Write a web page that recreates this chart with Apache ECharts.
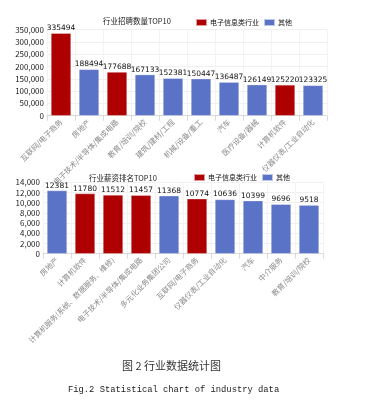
<!DOCTYPE html>
<html>
<head>
<meta charset="utf-8">
<script src="https://cdn.jsdelivr.net/npm/echarts@6/dist/echarts.min.js"></script>
<style>
html,body{margin:0;padding:0;background:#fff;}
#c{width:367px;height:401px;}
</style>
</head>
<body>
<div id="c"></div>
<script>
// ---- Data ----
const recruitCategories = ['互联网/电子商务','房地产','电子技术/半导体/集成电路','教育/培训/院校','建筑/建材/工程','机械/设备/重工','汽车','医疗设备/器械','计算机软件','仪器仪表/工业自动化'];
const recruitValues = [335494,188494,177688,167133,152381,150447,136487,126149,125220,123325];
const recruitIsElectronic = [1,0,1,0,0,0,0,0,1,0];

const salaryCategories = ['房地产','计算机软件','计算机服务(系统、数据服务、维修)','电子技术/半导体/集成电路','多元化业务集团公司','互联网/电子商务','仪器仪表/工业自动化','汽车','中介服务','教育/培训/院校'];
const salaryValues = [12381,11780,11512,11457,11368,10774,10636,10399,9696,9518];
const salaryIsElectronic = [0,1,1,1,0,1,0,0,0,0];

const titles = ['行业招聘数量TOP10','行业薪资排名TOP10'];
const legendNames = ['电子信息类行业','其他'];
const captionCN = '图 2 行业数据统计图';
const captionEN = 'Fig.2 Statistical chart of industry data';

// ---- Styles ----
const RED = '#AE0000';
const BLUE = '#5B73C7';
const FONT = '"Noto Sans CJK SC", "DejaVu Sans", sans-serif';

function split(vals, flags, want){
  return vals.map((v,i)=> flags[i]===want ? v : null);
}
function fmt(v){ return v.toLocaleString('en-US'); }

const chart = echarts.init(document.getElementById('c'));

function xAxisFor(cats, gi){
  return {
    type:'category', gridIndex:gi, data:cats,
    axisLine:{lineStyle:{color:'#d9d9d9'}},
    axisTick:{show:true, lineStyle:{color:'#d9d9d9'}},
    axisLabel:{rotate:45, interval:0, fontSize:7.5, color:'#8a8a8a', fontFamily:FONT, margin:5},
    splitLine:{show:true, lineStyle:{color:'#f3f3f3'}}
  };
}
function yAxisFor(max, interval, gi){
  return {
    type:'value', gridIndex:gi, min:0, max:max, interval:interval,
    axisLine:{show:false}, axisTick:{show:false},
    axisLabel:{fontSize:8, color:'#222', fontFamily:FONT, margin:3, formatter:fmt},
    splitLine:{lineStyle:{color:'#f0f0f0'}}
  };
}
function barSeries(name, data, color, gi){
  return {
    name:name, type:'bar', xAxisIndex:gi, yAxisIndex:gi,
    data:data, barWidth:20, barGap:'-100%',
    itemStyle:{color:color, borderColor:'rgba(255,255,255,0.6)', borderWidth:0.5},
    label:{show:true, position:'top', distance:1, fontSize:7.5, color:'#111', fontFamily:'"DejaVu Sans", sans-serif'}
  };
}

chart.setOption({
  animation:false,
  title:[
    {text:titles[0], left:98, top:12, textStyle:{fontSize:7.5, fontWeight:'normal', color:'#222', fontFamily:FONT}},
    {text:titles[1], left:84, top:169, textStyle:{fontSize:7.5, fontWeight:'normal', color:'#222', fontFamily:FONT}}
  ],
  legend:[
    {data:legendNames, left:190, top:13, itemWidth:11, itemHeight:7, itemGap:4,
     textStyle:{fontSize:7, color:'#111', fontFamily:FONT, padding:[0,0,0,-2]}, icon:'rect'},
    {data:legendNames, left:188, top:168, itemWidth:11, itemHeight:7, itemGap:4,
     textStyle:{fontSize:7, color:'#111', fontFamily:FONT, padding:[0,0,0,-2]}, icon:'rect'}
  ],
  grid:[
    {left:47, width:280, top:29.7, height:86},
    {left:43, width:280, top:182.3, height:71.4}
  ],
  xAxis:[xAxisFor(recruitCategories,0), xAxisFor(salaryCategories,1)],
  yAxis:[yAxisFor(350000,50000,0), yAxisFor(14000,2000,1)],
  series:[
    barSeries(legendNames[0], split(recruitValues,recruitIsElectronic,1), RED, 0),
    barSeries(legendNames[1], split(recruitValues,recruitIsElectronic,0), BLUE, 0),
    barSeries(legendNames[0], split(salaryValues,salaryIsElectronic,1), RED, 1),
    barSeries(legendNames[1], split(salaryValues,salaryIsElectronic,0), BLUE, 1)
  ],
  graphic:[
    {type:'text', left:122, top:360, style:{text:captionCN, font:'11px "Noto Sans CJK SC"', fill:'#333'}},
    {type:'text', left:68, top:385, style:{text:captionEN, font:'8.8px "Liberation Mono", monospace', fill:'#222'}}
  ]
});
</script>
</body>
</html>
